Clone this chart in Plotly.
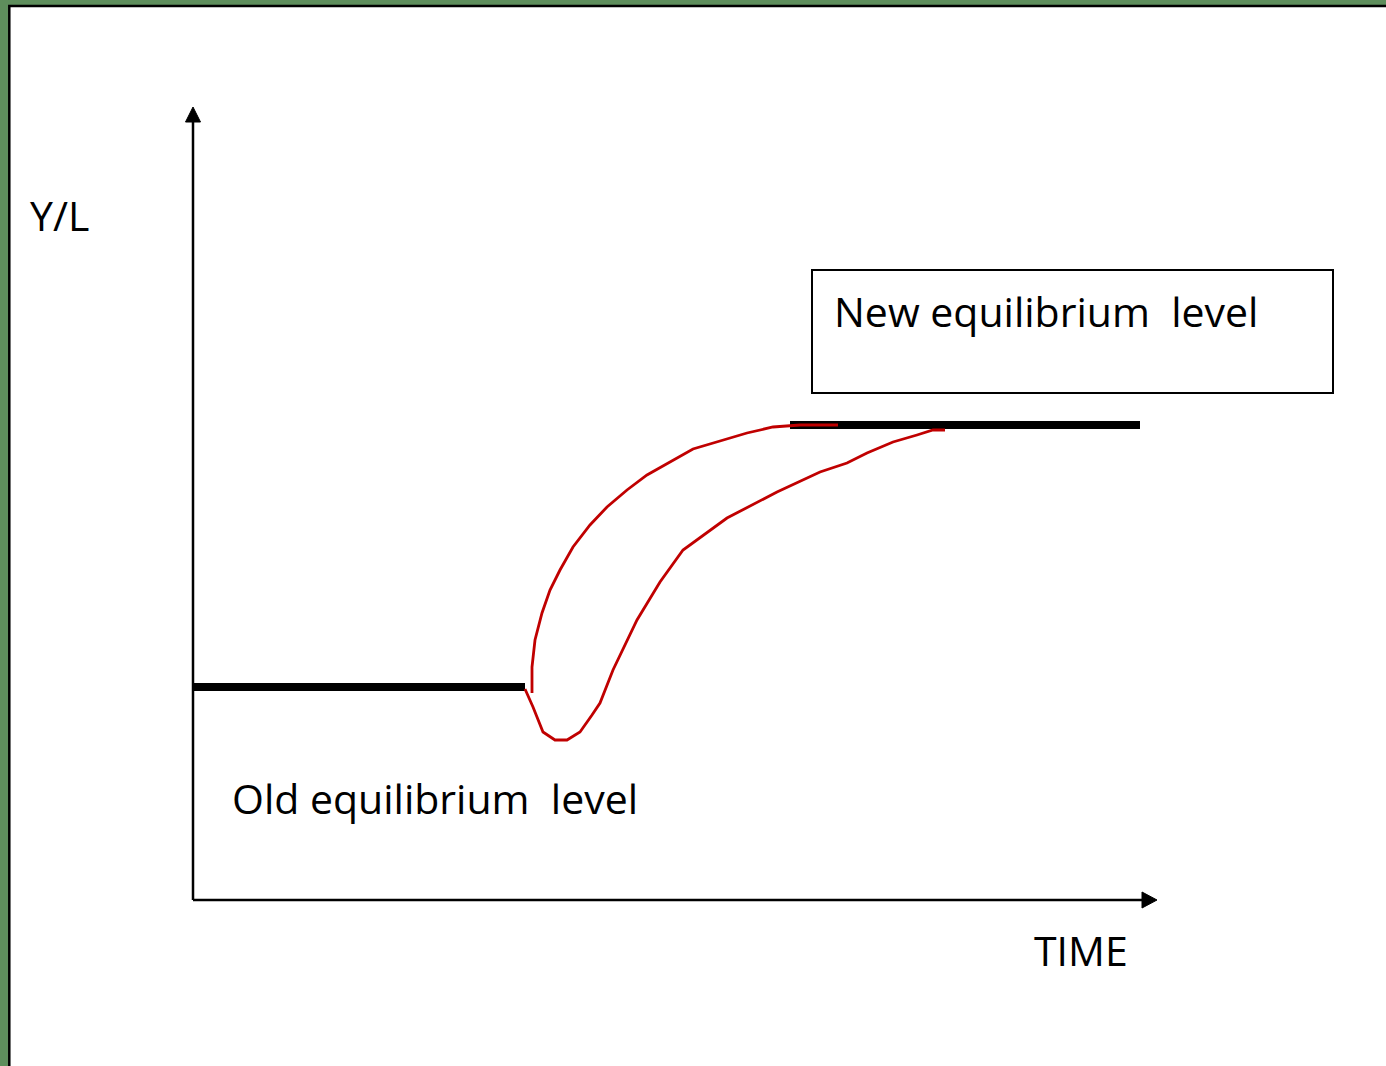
import plotly.graph_objects as go

# ---- data (time units on x, Y/L units on y; origin at axes corner) ----
old_level_x = [0.0, 33.2]
old_level_y = [21.3, 21.3]
new_level_x = [59.7, 94.7]
new_level_y = [47.5, 47.5]

fast_path_x = [33.9, 33.9, 34.2, 34.9, 35.7, 36.7, 38.0, 39.7, 41.4, 43.4, 45.4,
               47.7, 50.0, 52.7, 55.4, 58.0, 60.7, 64.5]
fast_path_y = [20.7, 23.3, 26.0, 28.7, 31.0, 33.0, 35.3, 37.5, 39.3, 41.0, 42.5,
               43.8, 45.1, 45.9, 46.7, 47.3, 47.5, 47.5]

dip_path_x = [33.2, 34.0, 35.0, 36.2, 37.4, 38.7, 39.9, 40.7, 42.0, 44.4, 46.7,
              49.0, 53.4, 58.4, 62.7, 65.4, 67.4, 70.0, 72.4, 74.0, 75.2]
dip_path_y = [21.1, 19.3, 16.8, 16.0, 16.0, 16.8, 18.5, 19.7, 23.0, 28.0, 31.8,
              35.0, 38.2, 40.8, 42.8, 43.7, 44.7, 45.8, 46.5, 47.0, 47.0]

x_axis_end = 96.4
y_axis_end = 79.3

labels = {
    "y": "Y/L",
    "x": "TIME",
    "old": "Old equilibrium&nbsp; level",
    "new": "New equilibrium&nbsp; level",
}

RED = "#c00000"
FONT = "Open Sans"
FS = 41

fig = go.Figure()

# black equilibrium levels
fig.add_trace(go.Scatter(x=old_level_x, y=old_level_y, mode="lines",
                         line=dict(color="black", width=8), hoverinfo="skip"))
fig.add_trace(go.Scatter(x=new_level_x, y=new_level_y, mode="lines",
                         line=dict(color="black", width=8), hoverinfo="skip"))
# red adjustment paths
fig.add_trace(go.Scatter(x=fast_path_x, y=fast_path_y, mode="lines",
                         line=dict(color=RED, width=2.8), hoverinfo="skip"))
fig.add_trace(go.Scatter(x=dip_path_x, y=dip_path_y, mode="lines",
                         line=dict(color=RED, width=2.8), hoverinfo="skip"))

shapes = [
    # white panel with black edge over green frame
    dict(type="rect", xref="paper", yref="paper", x0=9.3 / 1386, x1=1.01,
         y0=-0.01, y1=1 - 6 / 1066, fillcolor="white",
         line=dict(color="black", width=2.5), layer="below"),
    # axes
    dict(type="line", x0=0, y0=0, x1=0, y1=y_axis_end - 1.4,
         line=dict(color="black", width=2.5)),
    dict(type="line", x0=0, y0=0, x1=x_axis_end - 1.4, y1=0,
         line=dict(color="black", width=2.5)),
    # arrow heads
    dict(type="path",
         path=f"M -0.75 {y_axis_end-1.5} L 0 {y_axis_end} L 0.75 {y_axis_end-1.5} Z",
         fillcolor="black", line=dict(color="black", width=1)),
    dict(type="path",
         path=f"M {x_axis_end-1.5} -0.8 L {x_axis_end} 0 L {x_axis_end-1.5} 0.8 Z",
         fillcolor="black", line=dict(color="black", width=1)),
    # label box
    dict(type="rect", x0=61.9, x1=114.0, y0=50.7, y1=63.0,
         line=dict(color="black", width=2), fillcolor="rgba(0,0,0,0)"),
]

annots = [
    dict(x=-16.5, y=68.5, text=labels["y"]),
    dict(x=83.9, y=-5.0, text=labels["x"]),
    dict(x=3.7, y=10.2, text=labels["old"]),
    dict(x=63.9, y=58.9, text=labels["new"]),
]
for a in annots:
    a.update(xref="x", yref="y", showarrow=False, xanchor="left", yanchor="middle",
             font=dict(family=FONT, size=FS, color="black"))

fig.update_layout(
    width=1386, height=1066,
    margin=dict(l=0, r=0, t=0, b=0),
    paper_bgcolor="#5e8e5c",
    plot_bgcolor="rgba(0,0,0,0)",
    showlegend=False,
    xaxis=dict(range=[-19.3, 119.3], visible=False, fixedrange=True),
    yaxis=dict(range=[-16.6, 90.0], visible=False, fixedrange=True),
    shapes=shapes,
    annotations=annots,
)

fig.write_html("out.html", config={"displayModeBar": False},
               post_script="document.body.style.margin='0';document.body.style.overflow='hidden';")
